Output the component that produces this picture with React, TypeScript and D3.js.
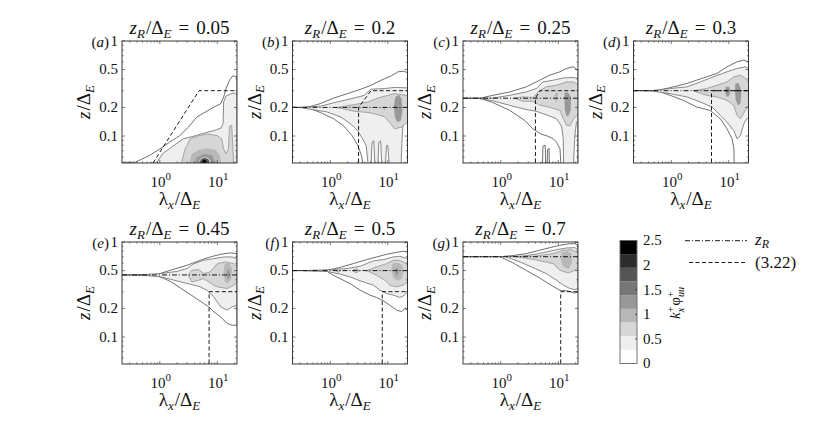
import * as d3 from 'd3';

type Pt = [number, number];
// [colour level, upper edge left->right, lower edge left->right]
type Layer = [number, Pt[], Pt[]];

const FONT = "'Liberation Serif', 'Noto Serif', 'DejaVu Serif', Tinos, 'Nimbus Roman', FreeSerif, 'Times New Roman', Times, serif";
const FLOOR = 0.045; // below the axis floor, clipped away

const panelLetters = ['a', 'b', 'c', 'd', 'e', 'f', 'g'];
const zRValues = [0.05, 0.2, 0.25, 0.3, 0.45, 0.5, 0.7];
const zRLabels = ['0.05', '0.2', '0.25', '0.3', '0.45', '0.5', '0.7'];

const xDomain: [number, number] = [0.22, 22];
const zDomain: [number, number] = [0.052, 1];
const xMajor = [1, 10];
const xMajorExp = ['0', '1'];
const xMinor = [0.3, 0.4, 0.5, 0.6, 0.7, 0.8, 0.9, 2, 3, 4, 5, 6, 7, 8, 9, 20];
const zMajor = [0.1, 0.2, 0.5, 1];
const zMajorLabels = ['0.1', '0.2', '0.5', '1'];
const zMinor = [0.06, 0.07, 0.08, 0.09, 0.3, 0.4, 0.6, 0.7, 0.8, 0.9];

const cbTicks = [0, 0.5, 1, 1.5, 2, 2.5];
const cbLabels = ['0', '0.5', '1', '1.5', '2', '2.5'];
const cbMax = 2.5;
const levelFill = ['#ffffff', '#efefef', '#d6d6d6', '#b8b8b8', '#989898', '#777777', '#545454', '#2c2c2c', '#000000'];
const levelStroke: (string | null)[] = ['#4a4a4a', '#6c6c6c', '#939393', null, null, null, '#f2f2f2', null, null];

const contoursA: Layer[] = [
  [0, [[0.22, 0.053], [0.376, 0.053], [0.65, 0.0621], [1.0, 0.0731], [1.48, 0.0861], [2.23, 0.101], [3.15, 0.124], [4.43, 0.159], [6.24, 0.179], [8.77, 0.202], [11.5, 0.219], [12.9, 0.258], [14.2, 0.316], [16.3, 0.387], [18.6, 0.43], [22, 0.42]], [[0.22, FLOOR], [22, FLOOR]]],
  [1, [[0.745, FLOOR], [1.12, 0.0652], [1.59, 0.0762], [2.56, 0.0934], [3.87, 0.0995], [5.83, 0.107], [8.77, 0.114], [11.5, 0.121], [12.6, 0.135], [12.9, 0.228], [14.2, 0.264], [17.4, 0.279], [19.9, 0.284], [22, 0.268]], [[0.745, FLOOR], [22, FLOOR]]],
  [2, [[2.23, FLOOR], [2.75, 0.0731], [3.38, 0.0934], [4.75, 0.101], [6.69, 0.105], [10.0, 0.101], [11.9, 0.0934], [12.9, 0.0731], [14.2, 0.0652], [15.6, 0.0731], [16.3, 0.127], [17.8, 0.129], [18.6, 0.08], [19.4, FLOOR]], [[2.23, FLOOR], [19.4, FLOOR]]],
  [3, [[3.07, FLOOR], [3.61, 0.0652], [4.75, 0.0714], [6.69, 0.0743], [9.4, 0.0714], [11.2, 0.0621], [12.1, FLOOR]], [[3.07, FLOOR], [12.1, FLOOR]]],
  [4, [[3.75, FLOOR], [4.43, 0.0597], [5.99, 0.0652], [8.22, 0.0621], [9.75, FLOOR]], [[3.75, FLOOR], [9.75, FLOOR]]],
  [6, [[4.55, FLOOR], [5.09, 0.0573], [5.99, 0.0597], [7.16, 0.0573], [7.9, FLOOR]], [[4.55, FLOOR], [7.9, FLOOR]]],
  [8, [[5.25, FLOOR], [5.6, 0.0555], [6.24, 0.0563], [6.9, FLOOR]], [[5.25, FLOOR], [6.9, FLOOR]]],
];

const contoursB: Layer[] = [
  [0, [[0.22, 0.2], [0.39, 0.2], [0.67, 0.219], [1.14, 0.251], [1.97, 0.279], [3.4, 0.311], [5.1, 0.342], [7.7, 0.387], [11.5, 0.43], [15.1, 0.474], [18.5, 0.481], [22, 0.466]],
    [[0.22, 0.2], [0.39, 0.2], [0.67, 0.177], [1.14, 0.152], [1.73, 0.127], [2.39, 0.101], [2.99, 0.08], [3.49, 0.0621], [3.8, FLOOR], [22, FLOOR]]],
  [1, [[0.29, 0.2], [0.67, 0.206], [1.3, 0.228], [2.6, 0.251], [3.9, 0.268], [5.1, 0.311], [8.8, 0.316], [13.2, 0.325], [22, 0.321]],
    [[0.29, 0.2], [0.88, 0.179], [1.51, 0.159], [2.27, 0.134], [2.99, 0.114], [3.63, 0.0934], [4.2, 0.0793], [4.33, 0.0674], [4.6, FLOOR], [5.1, FLOOR], [5.3, 0.086], [5.7, 0.089], [6.0, FLOOR], [6.7, FLOOR], [6.96, 0.086], [7.5, 0.089], [7.9, FLOOR], [9.0, FLOOR], [9.5, 0.079], [10.0, 0.08], [10.7, FLOOR], [16.9, FLOOR], [17.7, 0.093], [18.7, 0.152], [20.4, 0.172], [22, 0.177]]],
  [2, [[1.3, 0.2], [2.6, 0.214], [4.5, 0.228], [6.7, 0.251], [10.0, 0.268], [13.2, 0.279], [17.3, 0.272], [22, 0.268]],
    [[1.3, 0.2], [2.6, 0.182], [4.5, 0.177], [6.7, 0.168], [8.8, 0.159], [10.7, 0.14], [13.2, 0.119], [17.3, 0.124], [22, 0.14]]],
  [3, [[8.2, 0.197], [8.7, 0.206], [9.2, 0.197], [8.7, 0.186]], []],
  [4, [[12.8, 0.21], [13.6, 0.258], [15.6, 0.272], [17.3, 0.247], [18.0, 0.186], [16.9, 0.146], [14.7, 0.14], [13.2, 0.159]], []],
];

const contoursC: Layer[] = [
  [0, [[0.22, 0.25], [0.43, 0.25], [0.73, 0.268], [1.43, 0.291], [2.77, 0.329], [4.75, 0.387], [7.1, 0.437], [10.7, 0.474], [13.9, 0.514], [18.2, 0.535], [22, 0.493]],
    [[0.22, 0.25], [0.43, 0.25], [0.73, 0.225], [1.43, 0.186], [2.6, 0.146], [3.6, 0.119], [5.0, 0.105], [6.6, 0.0995], [8.2, 0.0934], [9.3, 0.0861], [10.7, 0.0731], [11.2, FLOOR], [22, FLOOR]]],
  [0, [[5.3, FLOOR], [5.4, 0.078], [5.9, 0.08], [6.1, FLOOR]], []],
  [0, [[6.4, FLOOR], [6.5, 0.072], [6.9, 0.074], [7.0, FLOOR]], []],
  [1, [[0.38, 0.25], [0.73, 0.251], [1.43, 0.268], [2.77, 0.291], [4.16, 0.316], [5.4, 0.371], [8.2, 0.387], [12.2, 0.409], [18.2, 0.413], [22, 0.403]],
    [[0.38, 0.25], [0.73, 0.235], [1.43, 0.21], [2.77, 0.19], [4.16, 0.182], [5.4, 0.172], [7.1, 0.162], [9.3, 0.152], [11.4, 0.127], [12.2, 0.0934], [12.4, FLOOR], [18.2, FLOOR], [19.4, 0.101], [20.7, 0.14], [22, 0.146]]],
  [2, [[1.7, 0.25], [2.4, 0.258], [3.6, 0.255], [4.75, 0.3], [6.2, 0.33], [9.3, 0.342], [13.9, 0.371], [18.2, 0.371], [22, 0.35]],
    [[1.7, 0.25], [2.4, 0.232], [3.6, 0.232], [4.75, 0.212], [7.1, 0.2], [10.7, 0.186], [12.2, 0.152], [13.9, 0.13], [16, 0.128], [18.2, 0.15], [22, 0.17]]],
  [3, [[8.6, 0.25], [8.7, 0.279], [9.3, 0.29], [9.9, 0.279], [9.6, 0.235], [9.0, 0.228]], []],
  [4, [[12.7, 0.25], [13.0, 0.291], [14.9, 0.285], [16.5, 0.258], [16.5, 0.19], [15.2, 0.165], [13.9, 0.16], [13.0, 0.19]], []],
];

const contoursD: Layer[] = [
  [0, [[0.22, 0.3], [0.56, 0.3], [1.09, 0.329], [1.86, 0.357], [2.76, 0.387], [4.1, 0.42], [6.2, 0.455], [9.3, 0.535], [13.9, 0.604], [18.2, 0.629], [22, 0.604]],
    [[0.22, 0.3], [0.56, 0.3], [0.96, 0.268], [1.63, 0.237], [2.76, 0.202], [4.75, 0.186], [7.1, 0.152], [9.3, 0.119], [11.4, 0.0934], [12.3, 0.0731], [12.4, FLOOR], [22, FLOOR]]],
  [1, [[0.43, 0.3], [0.96, 0.316], [1.86, 0.329], [3.2, 0.371], [5.4, 0.42], [9.3, 0.474], [13.9, 0.514], [19.4, 0.535], [22, 0.514]],
    [[0.43, 0.3], [0.96, 0.279], [1.86, 0.258], [3.2, 0.228], [5.1, 0.202], [7.1, 0.165], [9.3, 0.14], [12.2, 0.114], [13.9, 0.0934], [15.9, 0.101], [18.2, 0.134], [20.5, 0.152], [22, 0.155]]],
  [2, [[2.4, 0.3], [4.1, 0.316], [6.2, 0.342], [9.3, 0.371], [12.2, 0.42], [15.9, 0.437], [19.4, 0.403], [22, 0.371]],
    [[2.4, 0.3], [4.1, 0.268], [6.2, 0.258], [9.3, 0.237], [12.2, 0.21], [13.9, 0.165], [15.9, 0.152], [19.4, 0.186], [22, 0.21]]],
  [4, [[8.6, 0.3], [8.8, 0.33], [10.2, 0.33], [10.7, 0.3], [10.0, 0.26], [9.0, 0.26]], []],
  [4, [[12.8, 0.3], [13.0, 0.357], [14.9, 0.36], [16.5, 0.3], [16.0, 0.22], [14.5, 0.21], [13.2, 0.24]], []],
];

const contoursE: Layer[] = [
  [0, [[0.22, 0.45], [0.84, 0.45], [1.53, 0.504], [2.97, 0.569], [5.07, 0.642], [7.5, 0.696], [11.4, 0.742], [16.3, 0.767], [22, 0.755]],
    [[0.22, 0.45], [0.84, 0.45], [1.53, 0.385], [2.6, 0.311], [3.9, 0.265], [5.8, 0.225], [7.1, 0.208], [8.65, 0.185], [11.4, 0.163], [14.8, 0.139], [18.1, 0.133], [22, 0.133]]],
  [1, [[0.4, 0.45], [1.02, 0.465], [1.98, 0.49], [2.97, 0.525], [3.9, 0.592], [5.8, 0.642], [8.65, 0.668], [13.0, 0.696], [18.1, 0.696], [22, 0.668]],
    [[0.4, 0.45], [1.02, 0.43], [1.98, 0.39], [3.4, 0.359], [5.07, 0.337], [6.6, 0.311], [8.65, 0.265], [11.4, 0.208], [14.8, 0.192], [18.1, 0.208], [22, 0.215]]],
  [2, [[3.1, 0.45], [3.6, 0.504], [4.75, 0.512], [5.8, 0.465], [7.5, 0.484], [10.0, 0.592], [13.9, 0.617], [19.4, 0.592], [22, 0.547]],
    [[3.1, 0.45], [3.6, 0.38], [4.75, 0.396], [5.8, 0.412], [8.65, 0.351], [10.0, 0.337], [14.8, 0.324], [19.4, 0.351], [22, 0.38]]],
  [3, [[12.9, 0.48], [13.3, 0.592], [15.8, 0.61], [18.1, 0.525], [17.5, 0.41], [15.2, 0.365], [13.6, 0.38]], []],
  [4, [[14.6, 0.46], [15.2, 0.52], [16.5, 0.5], [16.3, 0.42], [15.2, 0.4]], []],
];

const contoursF: Layer[] = [
  [0, [[0.22, 0.5], [0.84, 0.5], [1.47, 0.54], [2.5, 0.592], [4.3, 0.652], [6.36, 0.696], [9.5, 0.742], [14.2, 0.779], [18.6, 0.798], [22, 0.785]],
    [[0.22, 0.5], [0.84, 0.5], [1.1, 0.45], [1.47, 0.412], [2.2, 0.365], [3.3, 0.311], [4.9, 0.276], [6.36, 0.261], [8.4, 0.24], [10.8, 0.216], [14.2, 0.192], [17.4, 0.185], [19.8, 0.2], [22, 0.192]]],
  [1, [[0.34, 0.5], [0.87, 0.51], [1.92, 0.525], [3.3, 0.555], [5.6, 0.632], [8.3, 0.652], [12.5, 0.696], [16.1, 0.707], [22, 0.668]],
    [[0.34, 0.5], [0.87, 0.49], [1.47, 0.46], [2.2, 0.43], [3.3, 0.39], [5.6, 0.351], [7.3, 0.311], [9.5, 0.287], [12.5, 0.276], [16.1, 0.261], [18.6, 0.27], [22, 0.299]]],
  [2, [[1.25, 0.5], [1.38, 0.52], [1.52, 0.5], [1.38, 0.48]], []],
  [2, [[2.4, 0.5], [2.8, 0.525], [3.3, 0.5], [2.8, 0.475]], []],
  [2, [[4.3, 0.5], [6.36, 0.547], [9.5, 0.592], [12.5, 0.642], [16.1, 0.642], [21, 0.592], [22, 0.569]],
    [[4.3, 0.5], [6.36, 0.447], [8.9, 0.396], [10.8, 0.351], [14.2, 0.337], [18.6, 0.351], [22, 0.38]]],
  [3, [[11.5, 0.5], [12.0, 0.592], [14.2, 0.61], [17.5, 0.58], [19.0, 0.5], [17.5, 0.41], [14.8, 0.39], [12.5, 0.42]], []],
  [4, [[13.5, 0.46], [13.5, 0.53], [15.0, 0.53], [15.5, 0.48], [14.5, 0.44]], []],
];

const contoursG: Layer[] = [
  [0, [[0.22, 0.7], [0.96, 0.7], [1.63, 0.72], [2.8, 0.755], [4.7, 0.818], [7.1, 0.872], [10.6, 0.923], [15.9, 0.96], [19.4, 0.96], [22, 0.923]],
    [[0.22, 0.7], [0.96, 0.7], [1.5, 0.62], [2.8, 0.5], [4.7, 0.42], [7.5, 0.35], [10.6, 0.311], [14.8, 0.305], [19.4, 0.29], [22, 0.299]]],
  [1, [[1.24, 0.7], [2.4, 0.71], [3.96, 0.742], [6.2, 0.785], [9.3, 0.83], [13.9, 0.865], [19.4, 0.872], [22, 0.83]],
    [[1.24, 0.7], [2.4, 0.6], [3.96, 0.525], [6.2, 0.465], [9.3, 0.396], [12.2, 0.351], [15.9, 0.324], [19.4, 0.316], [22, 0.324]]],
  [2, [[1.86, 0.7], [3.96, 0.71], [8.2, 0.755], [12.2, 0.818], [17.0, 0.83], [20.9, 0.785], [22, 0.76]],
    [[1.86, 0.7], [3.96, 0.65], [8.2, 0.592], [10.6, 0.504], [14.8, 0.473], [19.4, 0.5], [22, 0.547]]],
  [3, [[11.0, 0.65], [11.5, 0.78], [14.2, 0.8], [16.9, 0.755], [17.3, 0.6], [15.0, 0.52], [12.2, 0.55]], []],
];

// (3.22) estimate, one polyline per panel
const dashedA: Pt[] = [[0.76, 0.052], [4.8, 0.3], [22, 0.3]];
const dashedB: Pt[] = [[3.1, FLOOR], [3.1, 0.2], [5.1, 0.3], [22, 0.3]];
const dashedC: Pt[] = [[4.0, FLOOR], [4.0, 0.25], [4.75, 0.3], [22, 0.3]];
const dashedD: Pt[] = [[5.0, FLOOR], [5.0, 0.3], [22, 0.3]];
const dashedE: Pt[] = [[7.2, FLOOR], [7.2, 0.3], [22, 0.3]];
const dashedF: Pt[] = [[8.0, FLOOR], [8.0, 0.3], [22, 0.3]];
const dashedG: Pt[] = [[11, FLOOR], [11, 0.3], [22, 0.3]];

const allContours = [contoursA, contoursB, contoursC, contoursD, contoursE, contoursF, contoursG];
const allDashed = [dashedA, dashedB, dashedC, dashedD, dashedE, dashedF, dashedG];

// layout
const PW = 115;
const PH = 122;
const panelLeft = [122, 292.5, 463, 633.5, 122, 292.5, 463];
const panelTop = [41, 41, 41, 41, 242, 242, 242];
const DASH = '4 2.5';
const DASHDOT = '5 2 1 2';

function Panel({ idx }: { idx: number }) {
  const left = panelLeft[idx];
  const top = panelTop[idx];
  const x = d3.scaleLog().domain(xDomain).range([left, left + PW]);
  const y = d3.scaleLog().domain(zDomain).range([top + PH, top]);
  const line = d3.line<Pt>().x((d) => x(d[0])).y((d) => y(d[1]));
  const clipId = `clip-${idx}`;
  const zR = zRValues[idx];
  const cx = left + PW / 2;
  const subSize = 13;

  return (
    <g>
      <defs>
        <clipPath id={clipId}>
          <rect x={left} y={top} width={PW} height={PH} />
        </clipPath>
      </defs>
      <g clipPath={`url(#${clipId})`}>
        {allContours[idx].map(([lvl, up, lo], k) => (
          <path
            key={k}
            d={line(up.concat(lo.slice().reverse())) + 'Z'}
            fill={levelFill[lvl]}
            stroke={levelStroke[lvl] ?? 'none'}
            strokeWidth={0.8}
            strokeLinejoin="round"
          />
        ))}
        {idx > 0 && (
          <line x1={left} x2={left + PW} y1={y(zR)} y2={y(zR)} stroke="#000" strokeWidth={0.9} strokeDasharray={DASHDOT} />
        )}
        <path d={line(allDashed[idx]) ?? ''} fill="none" stroke="#000" strokeWidth={0.9} strokeDasharray={DASH} />
      </g>

      {/* ticks, inward on all four sides */}
      <g stroke="#222" strokeWidth={0.6}>
        {zMajor.map((t) => (
          <g key={`zM${t}`}>
            <line x1={left} x2={left + 3} y1={y(t)} y2={y(t)} />
            <line x1={left + PW - 3} x2={left + PW} y1={y(t)} y2={y(t)} />
          </g>
        ))}
        {zMinor.map((t) => (
          <g key={`zm${t}`}>
            <line x1={left} x2={left + 1.6} y1={y(t)} y2={y(t)} />
            <line x1={left + PW - 1.6} x2={left + PW} y1={y(t)} y2={y(t)} />
          </g>
        ))}
        {xMajor.map((t) => (
          <g key={`xM${t}`}>
            <line x1={x(t)} x2={x(t)} y1={top + PH} y2={top + PH - 3} />
            <line x1={x(t)} x2={x(t)} y1={top} y2={top + 3} />
          </g>
        ))}
        {xMinor.map((t) => (
          <g key={`xm${t}`}>
            <line x1={x(t)} x2={x(t)} y1={top + PH} y2={top + PH - 1.6} />
            <line x1={x(t)} x2={x(t)} y1={top} y2={top + 1.6} />
          </g>
        ))}
      </g>
      <rect x={left} y={top} width={PW} height={PH} fill="none" stroke="#262626" strokeWidth={0.9} />

      <g fill="#111">
        {zMajor.map((t, i) => (
          <text key={`zl${t}`} x={left - 4} y={y(t) + 4.8} textAnchor="end" fontSize={15}>
            {zMajorLabels[i]}
          </text>
        ))}
        {xMajor.map((t, i) => (
          <text key={`xl${t}`} x={x(t) + 1} y={top + PH + 24} textAnchor="middle" fontSize={15}>
            10<tspan dy={-7} fontSize={11}>{xMajorExp[i]}</tspan>
          </text>
        ))}
        <text x={left - 13} y={top + 6} textAnchor="end" fontSize={15}>
          (<tspan fontStyle="italic">{panelLetters[idx]}</tspan>)
        </text>

        <text x={cx} y={top - 7} textAnchor="middle" fontSize={19}>
          <tspan fontStyle="italic">z</tspan>
          <tspan fontStyle="italic" fontSize={subSize} dy={3.5}>R</tspan>
          <tspan dy={-3.5} dx={1}>/Δ</tspan>
          <tspan fontStyle="italic" fontSize={subSize} dy={3.5}>E</tspan>
          <tspan dy={-3.5} dx={7}>=</tspan>
          <tspan dx={7}>{zRLabels[idx]}</tspan>
        </text>

        <text x={cx} y={top + PH + 42} textAnchor="middle" fontSize={19}>
          <tspan>λ</tspan>
          <tspan fontStyle="italic" fontSize={subSize} dy={3.5}>x</tspan>
          <tspan dy={-3.5} dx={1}>/Δ</tspan>
          <tspan fontStyle="italic" fontSize={subSize} dy={3.5}>E</tspan>
        </text>

        <text transform={`translate(${left - 32},${top + PH / 2}) rotate(-90)`} textAnchor="middle" fontSize={19}>
          <tspan fontStyle="italic">z</tspan>
          <tspan dx={1}>/Δ</tspan>
          <tspan fontStyle="italic" fontSize={subSize} dy={3.5}>E</tspan>
        </text>
      </g>
    </g>
  );
}

function ColourBar() {
  const x0 = 620;
  const w = 17;
  const c = d3.scaleLinear().domain([0, cbMax]).range([363.5, 240.5]);
  const edges = d3.range(levelFill.length + 1).map((i) => (i * cbMax) / levelFill.length);
  return (
    <g fill="#111">
      {levelFill.map((col, i) => (
        <rect key={i} x={x0} y={c(edges[i + 1])} width={w} height={c(edges[i]) - c(edges[i + 1])} fill={col} />
      ))}
      <rect x={x0} y={c(cbMax)} width={w} height={c(0) - c(cbMax)} fill="none" stroke="#666" strokeWidth={0.9} />
      {cbTicks.slice(1, -1).map((t) => (
        <line key={`ct${t}`} x1={x0 + w - 2} x2={x0 + w} y1={c(t)} y2={c(t)} stroke="#333" strokeWidth={0.8} />
      ))}
      {cbTicks.map((t, i) => (
        <text key={`cl${t}`} x={x0 + w + 6} y={c(t) + 4.8} fontSize={15}>
          {cbLabels[i]}
        </text>
      ))}
      <text transform="translate(680,303) rotate(-90)" textAnchor="middle" fontSize={15}>
        <tspan fontStyle="italic">k</tspan>
        <tspan fontSize={10} dy={-6}>+</tspan>
        <tspan fontStyle="italic" fontSize={10} dx={-5.6} dy={10}>x</tspan>
        <tspan dy={-4} dx={2}>φ</tspan>
        <tspan fontSize={10} dy={-6}>+</tspan>
        <tspan fontStyle="italic" fontSize={10} dx={-5.6} dy={10}>uu</tspan>
      </text>
    </g>
  );
}

function Legend() {
  return (
    <g fill="#111">
      <line x1={685} x2={747} y1={240.7} y2={240.7} stroke="#000" strokeWidth={0.9} strokeDasharray={DASHDOT} />
      <text x={755} y={245} fontSize={17}>
        <tspan fontStyle="italic">z</tspan>
        <tspan fontStyle="italic" fontSize={12} dy={3}>R</tspan>
      </text>
      <line x1={689} x2={747} y1={262.5} y2={262.5} stroke="#000" strokeWidth={0.9} strokeDasharray={DASH} />
      <text x={755} y={267.5} fontSize={17}>
        (3.22)
      </text>
    </g>
  );
}

export default function App() {
  return (
    <svg
      width={830}
      height={425}
      viewBox="0 0 830 425"
      fontFamily={FONT}
      style={{ display: 'block', position: 'absolute', left: 0, top: 0, background: '#fff' }}
    >
      <rect width={830} height={425} fill="#fff" />
      {panelLetters.map((_, i) => (
        <Panel key={i} idx={i} />
      ))}
      <ColourBar />
      <Legend />
    </svg>
  );
}
